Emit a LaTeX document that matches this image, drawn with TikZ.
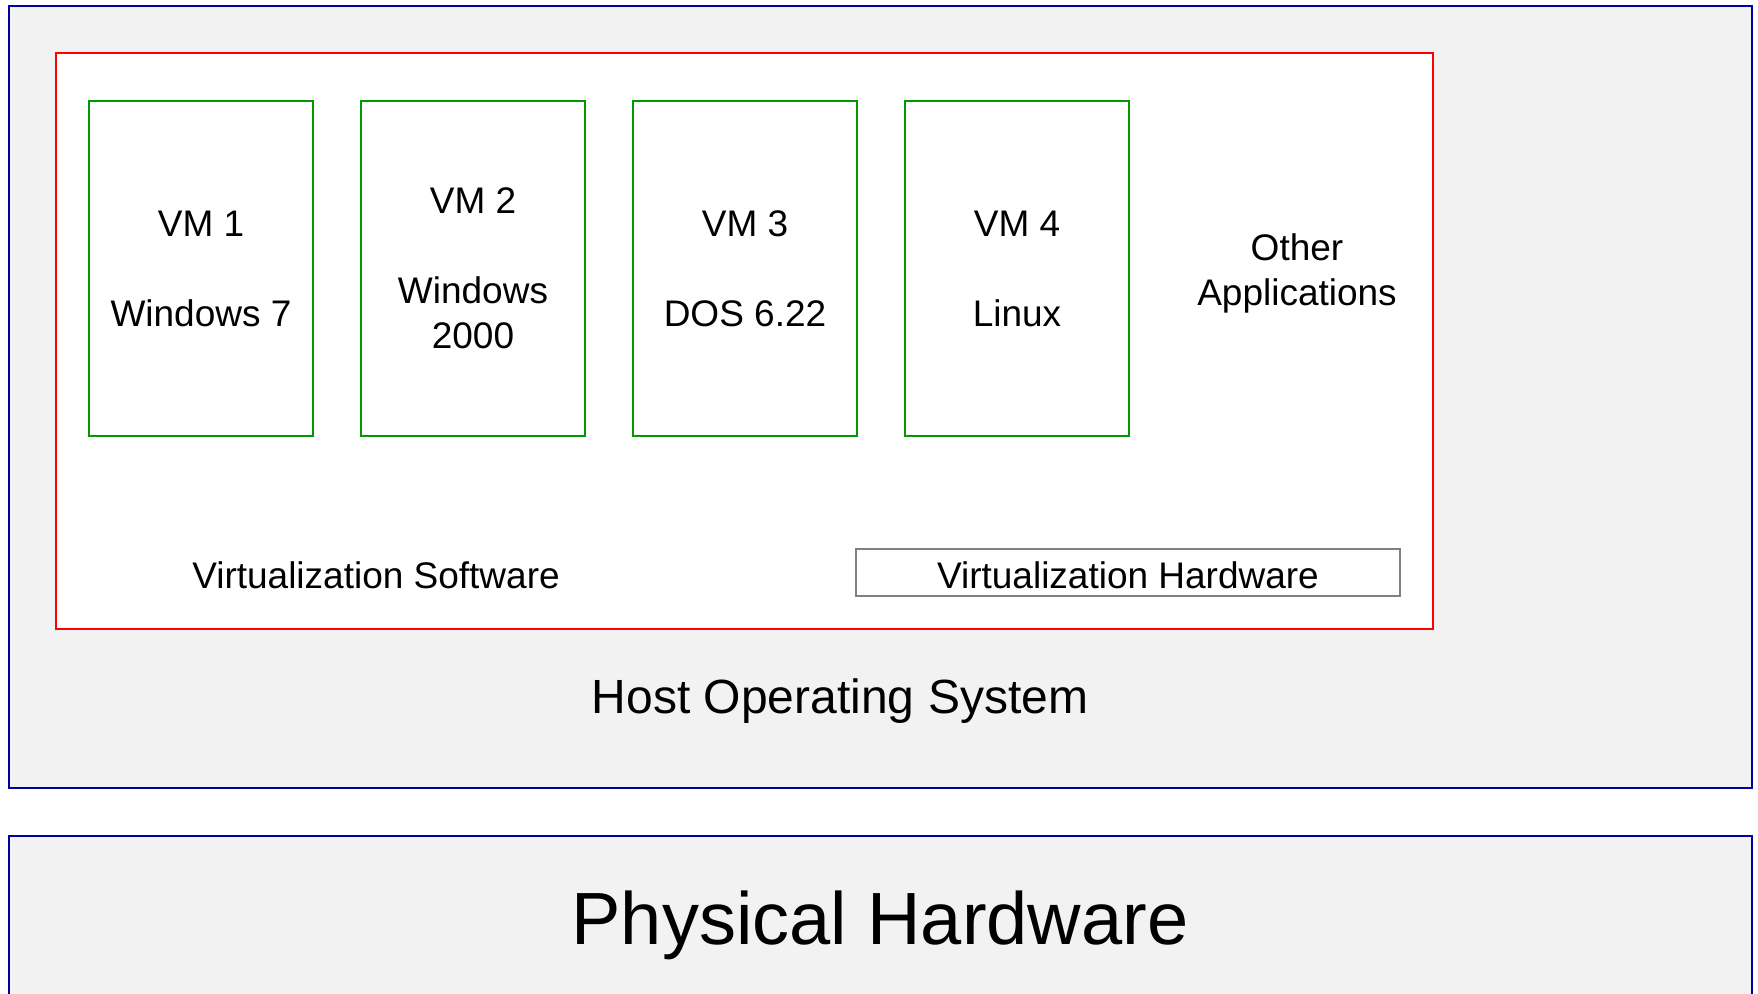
\documentclass[tikz,border=0pt]{standalone}
\usepackage{fontspec}
\setmainfont{Liberation Sans}
\usetikzlibrary{positioning}
\definecolor{hostblue}{RGB}{0,0,160}
\definecolor{vmgreen}{RGB}{0,153,0}
\definecolor{boxgray}{RGB}{242,242,242}
\definecolor{hwgray}{RGB}{128,128,128}
\tikzset{
	layer/.style={draw=hostblue, line width=1pt, fill=boxgray, minimum width=871.5pt, inner sep=0pt},
	vmbox/.style={draw=vmgreen, line width=1pt, fill=white, minimum width=112pt, minimum height=167.5pt, inner sep=0pt, align=center},
	label/.style={align=center, inner sep=0pt}
}
\begin{document}
\begin{tikzpicture}[x=0.5pt, y=-0.5pt, node distance=23pt, font=\fontsize{18.5}{22.5}\selectfont]
	\useasboundingbox (0,0) rectangle (1758,993);
	\clip (0,0) rectangle (1758,993);
	% layers
	\node[layer, minimum height=391pt] (host) at (880.5,397) {};
	\node[layer, minimum height=107pt] (phys) at (880.5,943) {};
	\node[draw=red, line width=1pt, fill=white, minimum width=688.5pt, minimum height=288pt] (virt) at (744.5,341) {};
	% guests
	\node[vmbox] (vm1) at (201,268.5) {VM 1\\ \\ Windows 7};
	\node[vmbox, right=of vm1] (vm2) {VM 2\\ \\ Windows\\ 2000};
	\node[vmbox, right=of vm2] (vm3) {VM 3\\ \\ DOS 6.22};
	\node[vmbox, right=of vm3] (vm4) {VM 4\\ \\ Linux};
	\node[label] (apps) at (1297,273) {Other\\ Applications};
	\node[label] (vsw) at (376,575) {Virtualization Software};
	\node[draw=hwgray, line width=1pt, fill=white, minimum width=272pt, minimum height=23.5pt, inner sep=0pt, text height=15.5pt, text depth=0pt] (vhw) at (1128,572.5) {Virtualization Hardware};
	\node[label, font=\fontsize{24}{28}\selectfont] (hostlbl) at (840,701) {Host Operating System};
	\node[label, font=\fontsize{37}{44}\selectfont] (physlbl) at (880,925) {Physical Hardware};
\end{tikzpicture}
\end{document}
